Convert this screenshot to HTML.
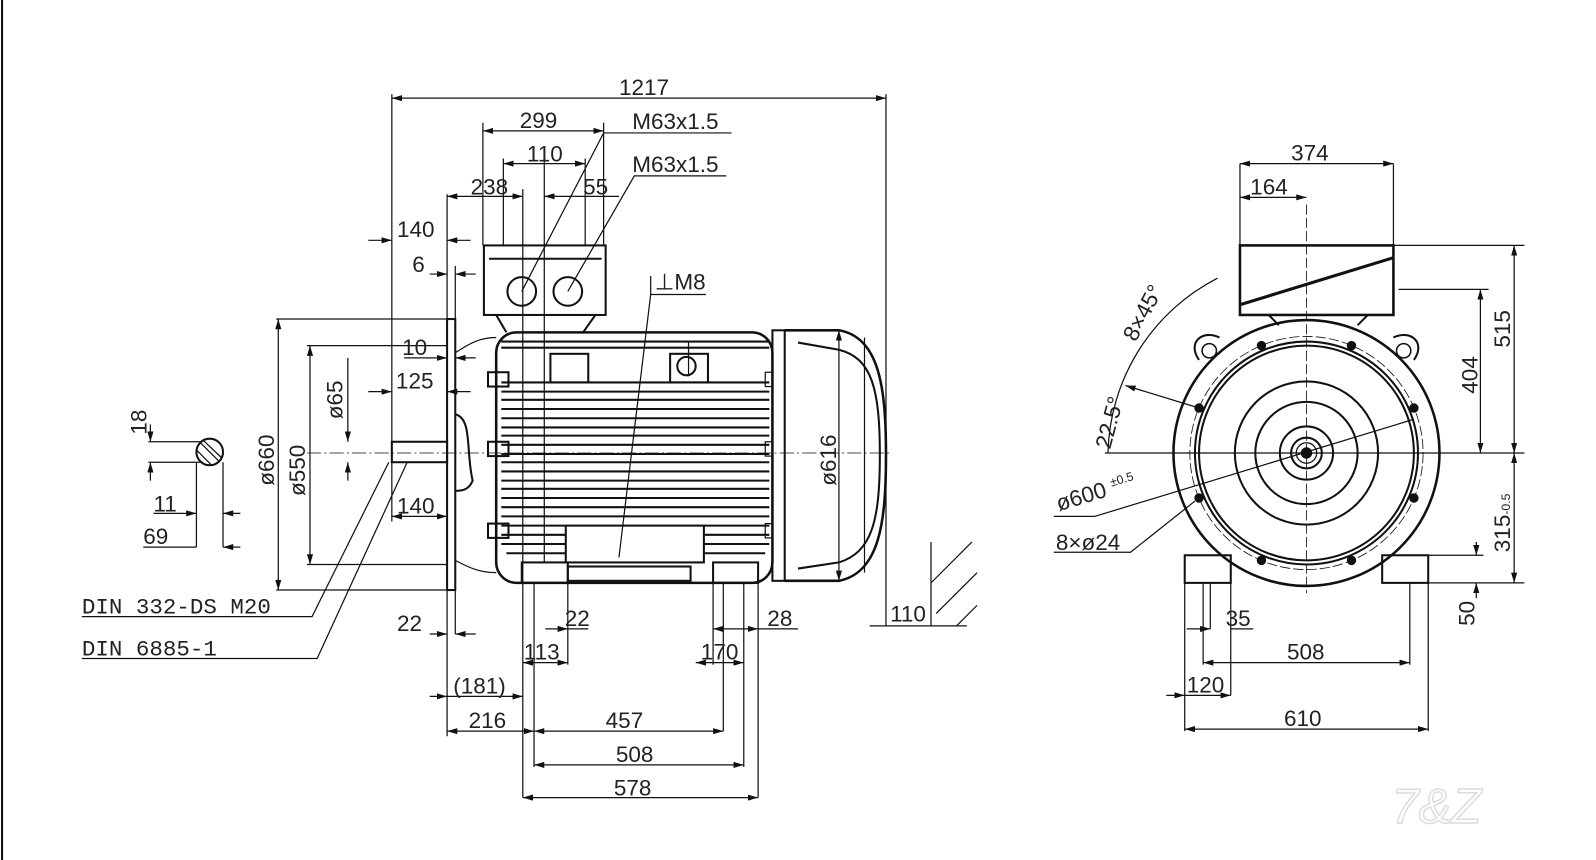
<!DOCTYPE html>
<html><head><meta charset="utf-8"><style>
html,body{margin:0;padding:0;background:#fff;width:1596px;height:860px;overflow:hidden}
svg{display:block}
text{font-family:"Liberation Sans",sans-serif;font-size:22px;fill:#222}
</style></head><body>
<svg width="1596" height="860" viewBox="0 0 1560 841" preserveAspectRatio="none" xmlns="http://www.w3.org/2000/svg">
<defs>
<marker id="a" viewBox="0 0 10 6" refX="10" refY="3" markerWidth="10" markerHeight="6" orient="auto-start-reverse" markerUnits="userSpaceOnUse"><path d="M0,0L10,3L0,6z" fill="#111"/></marker>
</defs>
<g stroke="#111" fill="none" stroke-width="1.2">
<line x1="2" y1="0" x2="2" y2="841" stroke-width="2"/>
<circle cx="205" cy="442" r="13" stroke-width="2"/>
<path d="M195,432L214,451M192,440L207,455M198,430L217,448" />
<line x1="145" y1="432" x2="198" y2="432"/><line x1="145" y1="452" x2="198" y2="452"/>
<line x1="147" y1="415" x2="147" y2="432" marker-end="url(#a)"/><line x1="147" y1="470" x2="147" y2="452" marker-end="url(#a)"/>
<line x1="192" y1="452" x2="192" y2="535"/><line x1="218" y1="452" x2="218" y2="535"/>
<line x1="150" y1="502" x2="192" y2="502" marker-end="url(#a)"/><line x1="235" y1="502" x2="218" y2="502" marker-end="url(#a)"/>
<line x1="140" y1="535" x2="192" y2="535"/><line x1="218" y1="535" x2="235" y2="535" marker-start="url(#a)"/>
<rect x="437" y="312" width="8" height="265" stroke-width="2"/>
<rect x="383" y="432" width="54" height="20" stroke-width="2"/>
<path d="M445,405 C462,410 455,440 462,470 C458,480 450,480 445,480" stroke-width="2"/>
<line x1="270" y1="312" x2="437" y2="312"/><line x1="270" y1="577" x2="437" y2="577"/>
<line x1="272" y1="312" x2="272" y2="577" marker-start="url(#a)" marker-end="url(#a)"/>
<line x1="300" y1="338" x2="437" y2="338"/><line x1="300" y1="552" x2="437" y2="552"/>
<line x1="303" y1="338" x2="303" y2="552" marker-start="url(#a)" marker-end="url(#a)"/>
<line x1="340" y1="350" x2="340" y2="432" marker-end="url(#a)"/><line x1="340" y1="470" x2="340" y2="452" marker-end="url(#a)"/>
<line x1="383" y1="230" x2="383" y2="510"/><line x1="383" y1="92" x2="383" y2="230"/>
<line x1="437" y1="190" x2="437" y2="720"/><line x1="445" y1="260" x2="445" y2="620"/>
<line x1="360" y1="235" x2="383" y2="235" marker-end="url(#a)"/><line x1="460" y1="235" x2="437" y2="235" marker-end="url(#a)"/>
<line x1="420" y1="268" x2="437" y2="268" marker-end="url(#a)"/><line x1="465" y1="268" x2="445" y2="268" marker-end="url(#a)"/>
<line x1="395" y1="350" x2="437" y2="350" marker-end="url(#a)"/><line x1="465" y1="350" x2="445" y2="350" marker-end="url(#a)"/>
<line x1="360" y1="383" x2="383" y2="383" marker-end="url(#a)"/><line x1="460" y1="383" x2="437" y2="383" marker-end="url(#a)"/>
<line x1="383" y1="505" x2="437" y2="505" marker-start="url(#a)" marker-end="url(#a)"/>
<line x1="420" y1="620" x2="437" y2="620" marker-end="url(#a)"/><line x1="465" y1="620" x2="445" y2="620" marker-end="url(#a)"/>
<polyline points="80,603 305,603 380,452"/><polyline points="80,644 310,644 398,452"/>
<rect x="485" y="325" width="270" height="245" rx="20" stroke-width="2.5"/>
<g stroke-width="2">
<line x1="490" y1="383" x2="752" y2="383"/><line x1="490" y1="391" x2="752" y2="391"/><line x1="490" y1="400" x2="752" y2="400"/><line x1="490" y1="409" x2="752" y2="409"/><line x1="490" y1="418" x2="752" y2="418"/><line x1="490" y1="426" x2="752" y2="426"/><line x1="490" y1="435" x2="752" y2="435"/><line x1="490" y1="444" x2="752" y2="444"/><line x1="490" y1="452" x2="752" y2="452"/><line x1="490" y1="461" x2="752" y2="461"/><line x1="490" y1="470" x2="752" y2="470"/><line x1="490" y1="478" x2="752" y2="478"/><line x1="490" y1="487" x2="752" y2="487"/><line x1="490" y1="496" x2="752" y2="496"/><line x1="490" y1="505" x2="752" y2="505"/>
<line x1="490" y1="514" x2="553" y2="514"/><line x1="688" y1="514" x2="752" y2="514"/>
<line x1="490" y1="523" x2="553" y2="523"/><line x1="688" y1="523" x2="752" y2="523"/>
<line x1="490" y1="532" x2="553" y2="532"/><line x1="688" y1="532" x2="752" y2="532"/>
<line x1="495" y1="541" x2="553" y2="541"/><line x1="688" y1="541" x2="748" y2="541"/>
<line x1="490" y1="334" x2="752" y2="334"/><line x1="490" y1="340" x2="752" y2="340"/><line x1="490" y1="374" x2="752" y2="374"/>
</g>
<rect x="538" y="346" width="37" height="28" stroke-width="2"/><rect x="655" y="346" width="37" height="28" stroke-width="2"/>
<circle cx="671" cy="358" r="9" stroke-width="2"/><line x1="673" y1="334" x2="673" y2="368"/>
<rect x="553" y="514" width="135" height="36" stroke-width="2"/>
<rect x="477" y="364" width="20" height="14" stroke-width="2"/><rect x="477" y="432" width="20" height="14" stroke-width="2"/><rect x="477" y="512" width="20" height="14" stroke-width="2"/>
<rect x="748" y="364" width="7" height="14"/><rect x="748" y="432" width="7" height="14"/><rect x="748" y="512" width="7" height="14"/>
<path d="M445,345 C460,335 470,330 485,330 M445,548 C460,556 470,560 485,560"/>
<rect x="510" y="550" width="45" height="20" stroke-width="2"/><rect x="697" y="550" width="44" height="20" stroke-width="2"/>
<rect x="555" y="554" width="120" height="14" stroke-width="2"/>
<rect x="473" y="240" width="119" height="68" stroke-width="2"/>
<line x1="478" y1="253" x2="588" y2="253" stroke-width="2"/>
<path d="M485,308L495,325M582,308L570,325" stroke-width="2"/>
<circle cx="510" cy="285" r="14" stroke-width="2"/><circle cx="555" cy="285" r="14" stroke-width="2"/>
<rect x="755" y="323" width="12" height="245" stroke-width="2"/>
<path d="M767,323 L820,323 C860,330 866,380 866,445 C866,510 860,560 820,568 L767,568" stroke-width="2.5"/>
<path d="M780,335 L820,342 C852,350 860,380 860,445" stroke-width="2"/><path d="M780,556 L820,550 C852,540 860,510 860,445" stroke-width="2"/>
<line x1="820" y1="323" x2="820" y2="568" marker-start="url(#a)" marker-end="url(#a)"/>
<line x1="845" y1="330" x2="845" y2="560"/>
<line x1="300" y1="443" x2="870" y2="443" stroke-dasharray="14,3,2,3" stroke-width="0.8"/>
<line x1="866" y1="92" x2="866" y2="612"/>
<line x1="472" y1="120" x2="472" y2="240"/><line x1="590" y1="120" x2="590" y2="240"/>
<line x1="492" y1="155" x2="492" y2="240"/><line x1="572" y1="155" x2="572" y2="240"/>
<line x1="511" y1="185" x2="511" y2="780"/><line x1="532" y1="155" x2="532" y2="550"/>
<line x1="383" y1="96" x2="866" y2="96" marker-start="url(#a)" marker-end="url(#a)"/>
<line x1="472" y1="128" x2="590" y2="128" marker-start="url(#a)" marker-end="url(#a)"/>
<line x1="492" y1="160" x2="532" y2="160" marker-start="url(#a)"/><line x1="532" y1="160" x2="572" y2="160" marker-end="url(#a)"/>
<line x1="437" y1="192" x2="511" y2="192" marker-start="url(#a)" marker-end="url(#a)"/>
<line x1="532" y1="192" x2="555" y2="192" marker-start="url(#a)"/><line x1="555" y1="192" x2="605" y2="192"/>
<polyline points="510,285 590,130 715,130"/><polyline points="555,285 620,172 710,172"/>
<polyline points="605,545 636,288 690,288"/><line x1="636" y1="270" x2="636" y2="288"/>
<line x1="555" y1="570" x2="555" y2="650"/><line x1="697" y1="570" x2="697" y2="650"/><line x1="741" y1="570" x2="741" y2="780"/>
<line x1="522" y1="570" x2="522" y2="750"/><line x1="727" y1="570" x2="727" y2="750"/><line x1="707" y1="570" x2="707" y2="715"/>
<line x1="533" y1="615" x2="555" y2="615" marker-end="url(#a)"/><line x1="575" y1="615" x2="555" y2="615"/>
<line x1="697" y1="615" x2="741" y2="615" marker-start="url(#a)" marker-end="url(#a)"/><line x1="741" y1="615" x2="780" y2="615"/>
<line x1="511" y1="648" x2="555" y2="648" marker-start="url(#a)" marker-end="url(#a)"/>
<line x1="680" y1="648" x2="727" y2="648" marker-start="url(#a)" marker-end="url(#a)"/>
<line x1="420" y1="681" x2="437" y2="681" marker-end="url(#a)"/><line x1="437" y1="681" x2="511" y2="681" marker-end="url(#a)"/>
<line x1="437" y1="715" x2="522" y2="715" marker-start="url(#a)" marker-end="url(#a)"/>
<line x1="522" y1="715" x2="707" y2="715" marker-start="url(#a)" marker-end="url(#a)"/>
<line x1="522" y1="748" x2="727" y2="748" marker-start="url(#a)" marker-end="url(#a)"/>
<line x1="511" y1="780" x2="741" y2="780" marker-start="url(#a)" marker-end="url(#a)"/>
<line x1="850" y1="612" x2="945" y2="612"/><line x1="910" y1="612" x2="910" y2="530"/>
<path d="M910,570L950,530M915,600L955,560M935,612L955,592"/>
<circle cx="1277" cy="443" r="130" stroke-width="2.5"/>
<circle cx="1277" cy="443" r="114" stroke-dasharray="10,3" stroke-width="0.8"/>
<circle cx="1277" cy="443" r="109" stroke-width="2"/><circle cx="1277" cy="443" r="105" stroke-width="2"/>
<circle cx="1277" cy="443" r="70" stroke-width="2"/><circle cx="1277" cy="443" r="50" stroke-width="2"/>
<circle cx="1277" cy="443" r="26" stroke-width="2"/><circle cx="1277" cy="443" r="15" stroke-width="2"/><circle cx="1277" cy="443" r="10"/>
<circle cx="1277" cy="443" r="5" fill="#111"/>
<g fill="#111"><circle cx="1233" cy="338" r="4"/><circle cx="1321" cy="338" r="4"/><circle cx="1382" cy="399" r="4"/><circle cx="1382" cy="487" r="4"/><circle cx="1321" cy="548" r="4"/><circle cx="1233" cy="548" r="4"/><circle cx="1172" cy="487" r="4"/><circle cx="1172" cy="399" r="4"/></g>
<path d="M1172,352 C1160,335 1175,322 1192,330 M1382,352 C1394,335 1379,322 1362,330" stroke-width="2"/>
<circle cx="1182" cy="343" r="7" stroke-width="1.5"/><circle cx="1372" cy="343" r="7" stroke-width="1.5"/>
<rect x="1212" y="240" width="150" height="68" stroke-width="2.5"/>
<line x1="1212" y1="298" x2="1362" y2="252" stroke-width="3"/>
<path d="M1240,308L1250,318M1337,308L1327,318" stroke-width="2"/>
<rect x="1158" y="543" width="45" height="27" stroke-width="2"/><rect x="1351" y="543" width="45" height="27" stroke-width="2"/>
<line x1="1277" y1="200" x2="1277" y2="580" stroke-dasharray="10,3" stroke-width="0.8"/>
<line x1="1080" y1="443" x2="1490" y2="443"/>
<line x1="1212" y1="160" x2="1212" y2="240"/><line x1="1362" y1="160" x2="1362" y2="240"/>
<line x1="1212" y1="160" x2="1362" y2="160" marker-start="url(#a)" marker-end="url(#a)"/>
<line x1="1212" y1="193" x2="1277" y2="193" marker-start="url(#a)" marker-end="url(#a)"/>
<line x1="1362" y1="240" x2="1490" y2="240"/><line x1="1367" y1="283" x2="1455" y2="283"/>
<line x1="1480" y1="240" x2="1480" y2="443" marker-start="url(#a)" marker-end="url(#a)"/>
<line x1="1447" y1="283" x2="1447" y2="443" marker-start="url(#a)" marker-end="url(#a)"/>
<line x1="1480" y1="443" x2="1480" y2="570" marker-start="url(#a)" marker-end="url(#a)"/>
<line x1="1396" y1="570" x2="1490" y2="570"/><line x1="1396" y1="543" x2="1450" y2="543"/>
<line x1="1443" y1="530" x2="1443" y2="543" marker-end="url(#a)"/><line x1="1443" y1="585" x2="1443" y2="570" marker-end="url(#a)"/>
<path d="M1083,443 A197,197 0 0 1 1190,272"/>
<line x1="1100" y1="377" x2="1172" y2="399" marker-start="url(#a)"/>
<polyline points="1030,505 1070,505 1382,410" /><polyline points="1030,540 1105,540 1168,490"/>
<line x1="1158" y1="570" x2="1158" y2="715"/><line x1="1176" y1="570" x2="1176" y2="650"/><line x1="1183" y1="570" x2="1183" y2="615"/><line x1="1203" y1="570" x2="1203" y2="680"/><line x1="1378" y1="570" x2="1378" y2="650"/><line x1="1396" y1="570" x2="1396" y2="715"/>
<line x1="1160" y1="615" x2="1183" y2="615" marker-end="url(#a)"/><line x1="1225" y1="615" x2="1203" y2="615"/>
<line x1="1176" y1="648" x2="1378" y2="648" marker-start="url(#a)" marker-end="url(#a)"/>
<line x1="1140" y1="680" x2="1158" y2="680" marker-end="url(#a)"/><line x1="1158" y1="680" x2="1203" y2="680" marker-end="url(#a)"/>
<line x1="1158" y1="713" x2="1396" y2="713" marker-start="url(#a)" marker-end="url(#a)"/>
</g>
<g>
<text x="605" y="93">1217</text><text x="508" y="125">299</text><text x="515" y="158">110</text>
<text x="460" y="190">238</text><text x="570" y="190">55</text>
<text x="618" y="126">M63x1.5</text><text x="618" y="168">M63x1.5</text><text x="640" y="283">⊥M8</text>
<text x="388" y="232">140</text><text x="403" y="266">6</text><text x="393" y="347">10</text><text x="387" y="380">125</text><text x="388" y="502">140</text>
<text x="388" y="617">22</text><text x="552" y="612">22</text><text x="512" y="645">113</text><text x="443" y="678">(181)</text><text x="458" y="712">216</text>
<text x="592" y="712">457</text><text x="602" y="745">508</text><text x="600" y="778">578</text><text x="685" y="645">170</text><text x="750" y="612">28</text><text x="870" y="608">110</text>
<text x="150" y="500">11</text><text x="140" y="532">69</text>
<text x="80" y="600" style="font-family:'Liberation Mono',monospace">DIN 332-DS M20</text>
<text x="80" y="641" style="font-family:'Liberation Mono',monospace">DIN 6885-1</text>
<text transform="translate(143,425) rotate(-90)">18</text><text transform="translate(268,475) rotate(-90)">ø660</text>
<text transform="translate(298,485) rotate(-90)">ø550</text><text transform="translate(335,410) rotate(-90)">ø65</text>
<text transform="translate(817,475) rotate(-90)">ø616</text>
<text x="1262" y="157">374</text><text x="1222" y="190">164</text>
<text x="1258" y="645">508</text><text x="1255" y="710">610</text><text x="1198" y="612">35</text><text x="1160" y="677">120</text>
<text x="1035" y="500" transform="rotate(-17 1035 500)">ø600 <tspan font-size="12" dy="-8">±0.5</tspan></text>
<text x="1032" y="538">8×ø24</text>
<text transform="translate(1110,335) rotate(-62)">8×45°</text><text transform="translate(1085,440) rotate(-75)">22.5°</text>
<text transform="translate(1476,340) rotate(-90)">515</text><text transform="translate(1444,385) rotate(-90)">404</text>
<text transform="translate(1476,540) rotate(-90)">315<tspan font-size="12">-0.5</tspan></text><text transform="translate(1441,612) rotate(-90)">50</text>
</g>
<text x="1360" y="805" style="font-size:48px;font-style:italic;fill:none;stroke:#ddd;stroke-width:1.5">7&amp;Z</text>
</svg>
</body></html>
